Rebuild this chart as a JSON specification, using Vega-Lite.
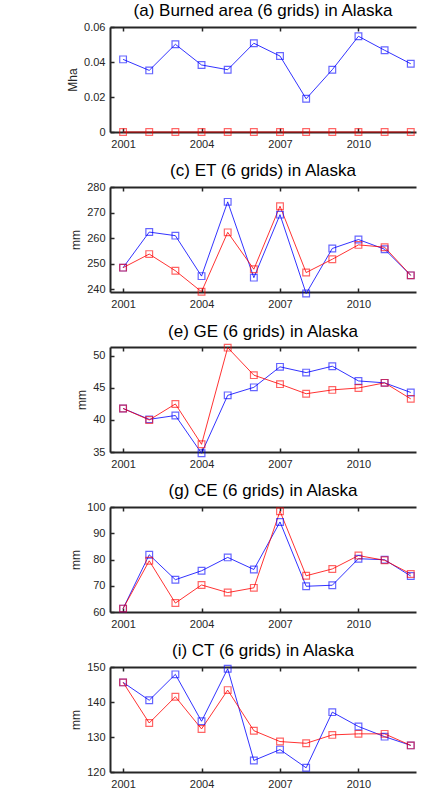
{
  "$schema": "https://vega.github.io/schema/vega-lite/v6.json",
  "background": "white",
  "padding": {"left": 66, "top": 2, "right": 5, "bottom": 5},
  "spacing": 55,
  "bounds": "flush",
  "config": {
    "font": "Liberation Sans",
    "view": {"stroke": null},
    "title": {"font": "Liberation Sans", "fontSize": 17, "fontWeight": "normal", "color": "#000000", "anchor": "middle", "frame": "group", "offset": 1},
    "axis": {
      "grid": false,
      "domainColor": "#262626",
      "domainWidth": 2,
      "tickColor": "#262626",
      "tickWidth": 1.5,
      "tickSize": -4,
      "labelFont": "Liberation Sans",
      "labelFontSize": 11,
      "labelColor": "#262626",
      "labelOverlap": false,
      "labelFlush": false,
      "titleFont": "Liberation Sans",
      "titleFontSize": 12,
      "titleFontWeight": "normal",
      "titleColor": "#262626",
      "labelPadding": 9,
      "titlePadding": 4
    },
    "axisX": {"labelPadding": 10}
  },
  "datasets": {
    "d": [
      {"p": "a", "yr": 2001, "s": "b", "v": 0.0415}, {"p": "a", "yr": 2002, "s": "b", "v": 0.0352}, {"p": "a", "yr": 2003, "s": "b", "v": 0.0501}, {"p": "a", "yr": 2004, "s": "b", "v": 0.0383}, {"p": "a", "yr": 2005, "s": "b", "v": 0.0356}, {"p": "a", "yr": 2006, "s": "b", "v": 0.0507}, {"p": "a", "yr": 2007, "s": "b", "v": 0.0434}, {"p": "a", "yr": 2008, "s": "b", "v": 0.019}, {"p": "a", "yr": 2009, "s": "b", "v": 0.0356}, {"p": "a", "yr": 2010, "s": "b", "v": 0.0547}, {"p": "a", "yr": 2011, "s": "b", "v": 0.0467}, {"p": "a", "yr": 2012, "s": "b", "v": 0.039},
      {"p": "a", "yr": 2001, "s": "r", "v": 0}, {"p": "a", "yr": 2002, "s": "r", "v": 0}, {"p": "a", "yr": 2003, "s": "r", "v": 0}, {"p": "a", "yr": 2004, "s": "r", "v": 0}, {"p": "a", "yr": 2005, "s": "r", "v": 0}, {"p": "a", "yr": 2006, "s": "r", "v": 0}, {"p": "a", "yr": 2007, "s": "r", "v": 0}, {"p": "a", "yr": 2008, "s": "r", "v": 0}, {"p": "a", "yr": 2009, "s": "r", "v": 0}, {"p": "a", "yr": 2010, "s": "r", "v": 0}, {"p": "a", "yr": 2011, "s": "r", "v": 0}, {"p": "a", "yr": 2012, "s": "r", "v": 0},
      {"p": "c", "yr": 2001, "s": "b", "v": 248.5}, {"p": "c", "yr": 2002, "s": "b", "v": 262.4}, {"p": "c", "yr": 2003, "s": "b", "v": 261.0}, {"p": "c", "yr": 2004, "s": "b", "v": 245.2}, {"p": "c", "yr": 2005, "s": "b", "v": 274.2}, {"p": "c", "yr": 2006, "s": "b", "v": 244.6}, {"p": "c", "yr": 2007, "s": "b", "v": 269.2}, {"p": "c", "yr": 2008, "s": "b", "v": 238.4}, {"p": "c", "yr": 2009, "s": "b", "v": 256.0}, {"p": "c", "yr": 2010, "s": "b", "v": 259.5}, {"p": "c", "yr": 2011, "s": "b", "v": 255.7}, {"p": "c", "yr": 2012, "s": "b", "v": 245.5},
      {"p": "c", "yr": 2001, "s": "r", "v": 248.5}, {"p": "c", "yr": 2002, "s": "r", "v": 253.8}, {"p": "c", "yr": 2003, "s": "r", "v": 247.3}, {"p": "c", "yr": 2004, "s": "r", "v": 239.1}, {"p": "c", "yr": 2005, "s": "r", "v": 262.3}, {"p": "c", "yr": 2006, "s": "r", "v": 247.9}, {"p": "c", "yr": 2007, "s": "r", "v": 272.5}, {"p": "c", "yr": 2008, "s": "r", "v": 246.6}, {"p": "c", "yr": 2009, "s": "r", "v": 251.8}, {"p": "c", "yr": 2010, "s": "r", "v": 257.4}, {"p": "c", "yr": 2011, "s": "r", "v": 256.5}, {"p": "c", "yr": 2012, "s": "r", "v": 245.5},
      {"p": "e", "yr": 2001, "s": "b", "v": 41.8}, {"p": "e", "yr": 2002, "s": "b", "v": 40.1}, {"p": "e", "yr": 2003, "s": "b", "v": 40.7}, {"p": "e", "yr": 2004, "s": "b", "v": 34.8}, {"p": "e", "yr": 2005, "s": "b", "v": 43.85}, {"p": "e", "yr": 2006, "s": "b", "v": 45.1}, {"p": "e", "yr": 2007, "s": "b", "v": 48.3}, {"p": "e", "yr": 2008, "s": "b", "v": 47.4}, {"p": "e", "yr": 2009, "s": "b", "v": 48.4}, {"p": "e", "yr": 2010, "s": "b", "v": 46.1}, {"p": "e", "yr": 2011, "s": "b", "v": 45.8}, {"p": "e", "yr": 2012, "s": "b", "v": 44.3},
      {"p": "e", "yr": 2001, "s": "r", "v": 41.8}, {"p": "e", "yr": 2002, "s": "r", "v": 40.0}, {"p": "e", "yr": 2003, "s": "r", "v": 42.5}, {"p": "e", "yr": 2004, "s": "r", "v": 36.2}, {"p": "e", "yr": 2005, "s": "r", "v": 51.3}, {"p": "e", "yr": 2006, "s": "r", "v": 47.0}, {"p": "e", "yr": 2007, "s": "r", "v": 45.6}, {"p": "e", "yr": 2008, "s": "r", "v": 44.1}, {"p": "e", "yr": 2009, "s": "r", "v": 44.7}, {"p": "e", "yr": 2010, "s": "r", "v": 45.0}, {"p": "e", "yr": 2011, "s": "r", "v": 45.8}, {"p": "e", "yr": 2012, "s": "r", "v": 43.3},
      {"p": "g", "yr": 2001, "s": "b", "v": 61.3}, {"p": "g", "yr": 2002, "s": "b", "v": 81.8}, {"p": "g", "yr": 2003, "s": "b", "v": 72.3}, {"p": "g", "yr": 2004, "s": "b", "v": 75.7}, {"p": "g", "yr": 2005, "s": "b", "v": 80.8}, {"p": "g", "yr": 2006, "s": "b", "v": 76.2}, {"p": "g", "yr": 2007, "s": "b", "v": 94.3}, {"p": "g", "yr": 2008, "s": "b", "v": 69.8}, {"p": "g", "yr": 2009, "s": "b", "v": 70.2}, {"p": "g", "yr": 2010, "s": "b", "v": 80.3}, {"p": "g", "yr": 2011, "s": "b", "v": 79.9}, {"p": "g", "yr": 2012, "s": "b", "v": 73.7},
      {"p": "g", "yr": 2001, "s": "r", "v": 61.3}, {"p": "g", "yr": 2002, "s": "r", "v": 79.5}, {"p": "g", "yr": 2003, "s": "r", "v": 63.4}, {"p": "g", "yr": 2004, "s": "r", "v": 70.3}, {"p": "g", "yr": 2005, "s": "r", "v": 67.4}, {"p": "g", "yr": 2006, "s": "r", "v": 69.2}, {"p": "g", "yr": 2007, "s": "r", "v": 98.4}, {"p": "g", "yr": 2008, "s": "r", "v": 73.8}, {"p": "g", "yr": 2009, "s": "r", "v": 76.4}, {"p": "g", "yr": 2010, "s": "r", "v": 81.5}, {"p": "g", "yr": 2011, "s": "r", "v": 79.7}, {"p": "g", "yr": 2012, "s": "r", "v": 74.5},
      {"p": "i", "yr": 2001, "s": "b", "v": 145.6}, {"p": "i", "yr": 2002, "s": "b", "v": 140.5}, {"p": "i", "yr": 2003, "s": "b", "v": 147.9}, {"p": "i", "yr": 2004, "s": "b", "v": 134.5}, {"p": "i", "yr": 2005, "s": "b", "v": 149.5}, {"p": "i", "yr": 2006, "s": "b", "v": 123.3}, {"p": "i", "yr": 2007, "s": "b", "v": 126.4}, {"p": "i", "yr": 2008, "s": "b", "v": 121.2}, {"p": "i", "yr": 2009, "s": "b", "v": 137.1}, {"p": "i", "yr": 2010, "s": "b", "v": 133.0}, {"p": "i", "yr": 2011, "s": "b", "v": 130.1}, {"p": "i", "yr": 2012, "s": "b", "v": 127.6},
      {"p": "i", "yr": 2001, "s": "r", "v": 145.6}, {"p": "i", "yr": 2002, "s": "r", "v": 134.0}, {"p": "i", "yr": 2003, "s": "r", "v": 141.5}, {"p": "i", "yr": 2004, "s": "r", "v": 132.3}, {"p": "i", "yr": 2005, "s": "r", "v": 143.4}, {"p": "i", "yr": 2006, "s": "r", "v": 131.8}, {"p": "i", "yr": 2007, "s": "r", "v": 128.7}, {"p": "i", "yr": 2008, "s": "r", "v": 128.2}, {"p": "i", "yr": 2009, "s": "r", "v": 130.6}, {"p": "i", "yr": 2010, "s": "r", "v": 130.9}, {"p": "i", "yr": 2011, "s": "r", "v": 130.9}, {"p": "i", "yr": 2012, "s": "r", "v": 127.6}
    ]
  },
  "vconcat": [
    {
      "title": "(a) Burned area (6 grids) in Alaska",
      "width": 306, "height": 105,
      "data": {"name": "d"},
      "transform": [{"filter": "datum.p === 'a'"}],
      "layer": [
        {"mark": {"type": "line", "strokeWidth": 1, "opacity": 0.8, "clip": false},
         "encoding": {
           "x": {"field": "yr", "type": "quantitative", "scale": {"domain": [2000.5, 2012.2], "nice": false, "zero": false}, "axis": {"values": [2001, 2004, 2007, 2010], "format": "d", "title": null}},
           "y": {"field": "v", "type": "quantitative", "scale": {"domain": [0, 0.06], "nice": false, "zero": false}, "axis": {"values": [0, 0.02, 0.04, 0.06], "format": "~g", "title": "Mha"}},
           "color": {"field": "s", "type": "nominal", "scale": {"domain": ["b", "r"], "range": ["#0000ff", "#ff0000"]}, "legend": null}
         }},
        {"mark": {"type": "point", "shape": "square", "filled": false, "size": 45, "strokeWidth": 1.2, "opacity": 0.6},
         "encoding": {
           "x": {"field": "yr", "type": "quantitative", "axis": {"orient": "top", "values": [2001, 2004, 2007, 2010], "labels": false, "title": null}},
           "y": {"field": "v", "type": "quantitative", "axis": null},
           "color": {"field": "s", "type": "nominal", "legend": null}
         }}
      ],
      "resolve": {"axis": {"x": "independent", "y": "independent"}}
    },
    {
      "title": "(c) ET (6 grids) in Alaska",
      "width": 306, "height": 105,
      "data": {"name": "d"},
      "transform": [{"filter": "datum.p === 'c'"}],
      "layer": [
        {"mark": {"type": "line", "strokeWidth": 1, "opacity": 0.8, "clip": false},
         "encoding": {
           "x": {"field": "yr", "type": "quantitative", "scale": {"domain": [2000.5, 2012.2], "nice": false, "zero": false}, "axis": {"values": [2001, 2004, 2007, 2010], "format": "d", "title": null}},
           "y": {"field": "v", "type": "quantitative", "scale": {"domain": [239, 280], "nice": false, "zero": false}, "axis": {"values": [240, 250, 260, 270, 280], "title": "mm"}},
           "color": {"field": "s", "type": "nominal", "scale": {"domain": ["b", "r"], "range": ["#0000ff", "#ff0000"]}, "legend": null}
         }},
        {"mark": {"type": "point", "shape": "square", "filled": false, "size": 45, "strokeWidth": 1.2, "opacity": 0.6},
         "encoding": {
           "x": {"field": "yr", "type": "quantitative", "axis": {"orient": "top", "values": [2001, 2004, 2007, 2010], "labels": false, "title": null}},
           "y": {"field": "v", "type": "quantitative", "axis": null},
           "color": {"field": "s", "type": "nominal", "legend": null}
         }}
      ],
      "resolve": {"axis": {"x": "independent", "y": "independent"}}
    },
    {
      "title": "(e) GE (6 grids) in Alaska",
      "width": 306, "height": 105,
      "data": {"name": "d"},
      "transform": [{"filter": "datum.p === 'e'"}],
      "layer": [
        {"mark": {"type": "line", "strokeWidth": 1, "opacity": 0.8, "clip": false},
         "encoding": {
           "x": {"field": "yr", "type": "quantitative", "scale": {"domain": [2000.5, 2012.2], "nice": false, "zero": false}, "axis": {"values": [2001, 2004, 2007, 2010], "format": "d", "title": null}},
           "y": {"field": "v", "type": "quantitative", "scale": {"domain": [35, 51.4], "nice": false, "zero": false}, "axis": {"values": [35, 40, 45, 50], "title": "mm"}},
           "color": {"field": "s", "type": "nominal", "scale": {"domain": ["b", "r"], "range": ["#0000ff", "#ff0000"]}, "legend": null}
         }},
        {"mark": {"type": "point", "shape": "square", "filled": false, "size": 45, "strokeWidth": 1.2, "opacity": 0.6},
         "encoding": {
           "x": {"field": "yr", "type": "quantitative", "axis": {"orient": "top", "values": [2001, 2004, 2007, 2010], "labels": false, "title": null}},
           "y": {"field": "v", "type": "quantitative", "axis": null},
           "color": {"field": "s", "type": "nominal", "legend": null}
         }}
      ],
      "resolve": {"axis": {"x": "independent", "y": "independent"}}
    },
    {
      "title": "(g) CE (6 grids) in Alaska",
      "width": 306, "height": 105,
      "data": {"name": "d"},
      "transform": [{"filter": "datum.p === 'g'"}],
      "layer": [
        {"mark": {"type": "line", "strokeWidth": 1, "opacity": 0.8, "clip": false},
         "encoding": {
           "x": {"field": "yr", "type": "quantitative", "scale": {"domain": [2000.5, 2012.2], "nice": false, "zero": false}, "axis": {"values": [2001, 2004, 2007, 2010], "format": "d", "title": null}},
           "y": {"field": "v", "type": "quantitative", "scale": {"domain": [60, 100], "nice": false, "zero": false}, "axis": {"values": [60, 70, 80, 90, 100], "title": "mm"}},
           "color": {"field": "s", "type": "nominal", "scale": {"domain": ["b", "r"], "range": ["#0000ff", "#ff0000"]}, "legend": null}
         }},
        {"mark": {"type": "point", "shape": "square", "filled": false, "size": 45, "strokeWidth": 1.2, "opacity": 0.6},
         "encoding": {
           "x": {"field": "yr", "type": "quantitative", "axis": {"orient": "top", "values": [2001, 2004, 2007, 2010], "labels": false, "title": null}},
           "y": {"field": "v", "type": "quantitative", "axis": null},
           "color": {"field": "s", "type": "nominal", "legend": null}
         }}
      ],
      "resolve": {"axis": {"x": "independent", "y": "independent"}}
    },
    {
      "title": "(i) CT (6 grids) in Alaska",
      "width": 306, "height": 105,
      "data": {"name": "d"},
      "transform": [{"filter": "datum.p === 'i'"}],
      "layer": [
        {"mark": {"type": "line", "strokeWidth": 1, "opacity": 0.8, "clip": false},
         "encoding": {
           "x": {"field": "yr", "type": "quantitative", "scale": {"domain": [2000.5, 2012.2], "nice": false, "zero": false}, "axis": {"values": [2001, 2004, 2007, 2010], "format": "d", "title": null}},
           "y": {"field": "v", "type": "quantitative", "scale": {"domain": [120, 150], "nice": false, "zero": false}, "axis": {"values": [120, 130, 140, 150], "title": "mm"}},
           "color": {"field": "s", "type": "nominal", "scale": {"domain": ["b", "r"], "range": ["#0000ff", "#ff0000"]}, "legend": null}
         }},
        {"mark": {"type": "point", "shape": "square", "filled": false, "size": 45, "strokeWidth": 1.2, "opacity": 0.6},
         "encoding": {
           "x": {"field": "yr", "type": "quantitative", "axis": {"orient": "top", "values": [2001, 2004, 2007, 2010], "labels": false, "title": null}},
           "y": {"field": "v", "type": "quantitative", "axis": null},
           "color": {"field": "s", "type": "nominal", "legend": null}
         }}
      ],
      "resolve": {"axis": {"x": "independent", "y": "independent"}}
    }
  ]
}
